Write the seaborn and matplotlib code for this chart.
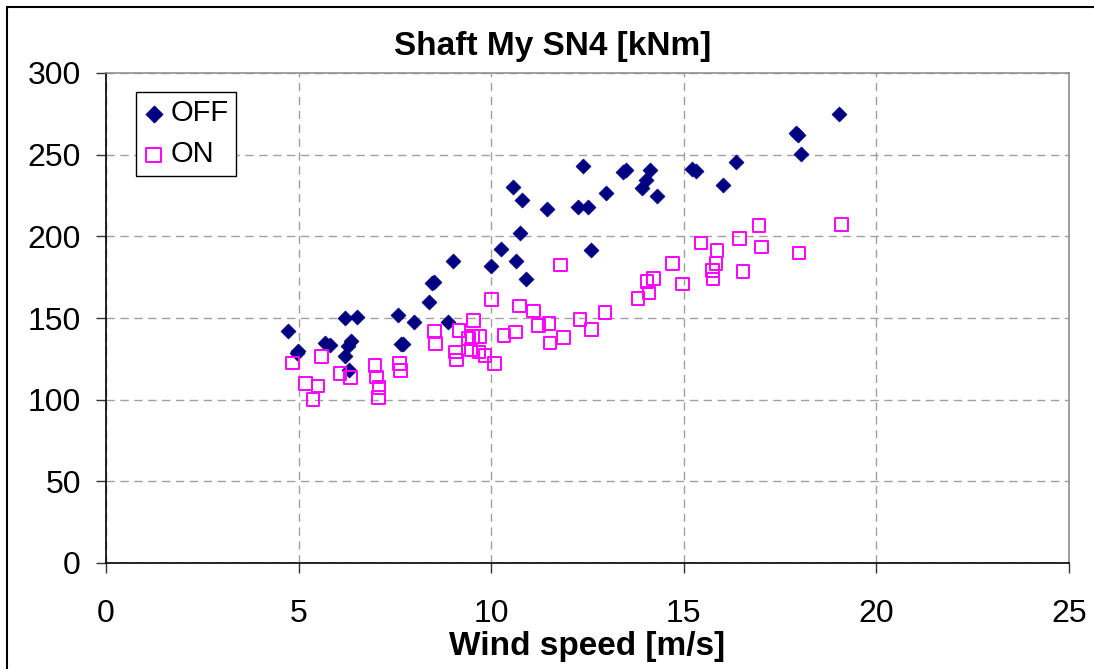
import seaborn as sns
import matplotlib.pyplot as plt
import matplotlib.patches as mpatches
import pandas as pd

# Data
off_speed = [4.73, 4.98, 4.97, 5.69, 5.82, 6.20, 6.52, 6.35, 6.29, 6.20, 6.32,
             7.58, 8.00, 7.65, 7.71, 8.39, 8.47, 8.52, 8.89, 9.00, 10.00, 10.26,
             10.57, 10.79, 10.76, 10.64, 10.90, 11.45, 12.25, 12.52, 12.38, 12.58,
             12.97, 13.42, 13.51, 14.11, 14.03, 13.92, 14.31, 15.22, 15.31, 16.03,
             16.35, 17.92, 17.97, 18.04, 19.03]
off_moment = [142.1, 129.9, 128.7, 134.8, 133.4, 149.8, 150.7, 135.8, 132.7, 127.0, 118.1,
              152.1, 147.8, 133.8, 134.2, 159.6, 171.5, 172.0, 147.6, 185.1, 181.9, 192.0,
              230.5, 222.4, 202.2, 185.1, 173.9, 216.9, 218.0, 218.0, 243.3, 191.4,
              226.4, 239.6, 240.7, 240.7, 234.6, 229.5, 224.8, 241.1, 240.3, 231.3,
              245.8, 263.5, 262.0, 250.6, 275.0]

on_speed = [4.84, 5.60, 5.18, 5.50, 5.37, 6.07, 6.34, 6.98, 7.02, 7.09, 7.07, 7.62,
            7.65, 8.53, 8.56, 9.16, 9.08, 9.10, 9.54, 9.41, 9.51, 9.70, 9.48, 9.68,
            9.84, 10.09, 10.33, 10.01, 10.63, 10.74, 11.10, 11.23, 11.50, 11.53, 11.87,
            11.80, 12.30, 12.60, 12.95, 13.81, 14.05, 14.22, 14.10, 14.71, 14.97, 15.45,
            15.86, 15.84, 15.74, 15.76, 16.44, 16.54, 16.95, 17.02, 17.99, 19.10]
on_moment = [122.4, 126.4, 109.8, 108.3, 100.2, 115.9, 113.6, 120.8, 113.8, 107.3, 101.4, 122.2,
             117.9, 141.7, 134.4, 142.5, 129.3, 124.2, 148.6, 137.4, 138.5, 138.5, 130.7, 129.3,
             127.0, 122.0, 139.3, 161.3, 141.5, 157.4, 154.4, 145.4, 146.8, 134.8, 138.2,
             182.5, 149.2, 142.8, 153.5, 161.9, 172.4, 174.3, 165.4, 183.3, 170.9, 196.0,
             191.4, 183.3, 179.2, 173.9, 198.5, 178.4, 206.7, 193.5, 189.8, 207.3]

x_ticks = [0, 5, 10, 15, 20, 25]
y_ticks = [0, 50, 100, 150, 200, 250, 300]

df_off = pd.DataFrame({"speed": off_speed, "moment": off_moment})
df_on = pd.DataFrame({"speed": on_speed, "moment": on_moment})

sns.set_style("white")
plt.rcParams['font.family'] = ["Liberation Sans", "DejaVu Sans"]
plt.rcParams['text.color'] = "black"
plt.rcParams['axes.labelcolor'] = "black"

fig = plt.figure(figsize=(10.94, 6.69), dpi=100)
ax = fig.add_axes([106 / 1094, 1 - 563 / 669, (1069 - 106) / 1094, (563 - 73) / 669])

sns.scatterplot(data=df_off, x="speed", y="moment", ax=ax, marker="D", s=58,
                color="#000080", edgecolor="#000080", linewidth=0.5, label="OFF", zorder=3)
sns.scatterplot(data=df_on, x="speed", y="moment", ax=ax, marker="s", s=82,
                facecolor="none", edgecolor="#FF00FF", linewidth=1.4, label="ON", zorder=3)

ax.set_xlim(0, 25)
ax.set_ylim(0, 300)
ax.set_xticks(x_ticks)
ax.set_yticks(y_ticks)
ax.grid(True, color="#a0a0a0", linestyle=(0, (6, 4)), linewidth=1.0)
ax.set_axisbelow(True)

for side in ["top", "right"]:
    ax.spines[side].set_color("#909090")
    ax.spines[side].set_linewidth(1.2)
for side in ["left", "bottom"]:
    ax.spines[side].set_color("#000000")
    ax.spines[side].set_linewidth(1.2)

ax.tick_params(axis="both", direction="out", length=7, width=1, colors="#333333",
               labelcolor="black", labelsize=23, bottom=True, left=True)
ax.tick_params(axis="x", pad=19)
ax.tick_params(axis="y", pad=11)

ax.set_xlabel("Wind speed [m/s]", fontsize=24, fontweight="bold", labelpad=1.5,
              color="black")
ax.set_ylabel("")

fig.text(553 / 1094, 1 - 47 / 669, "Shaft My SN4 [kNm]", fontsize=24,
         fontweight="bold", ha="center", va="center", color="black")

leg = ax.legend(loc="upper left", bbox_to_anchor=(30 / 963, 1 - 19 / 490),
                fontsize=21, frameon=True, fancybox=False, framealpha=1,
                edgecolor="black", handletextpad=0.25, borderpad=0.25,
                labelspacing=0.45, handlelength=0.7, borderaxespad=0,
                markerscale=1.15)
leg.get_frame().set_linewidth(1.0)
for t in leg.get_texts():
    t.set_color("black")

# outer chart-area border (left and top edges visible)
border = mpatches.Rectangle((7 / 1094, -0.1), 1.2, 1 - 7 / 669 + 0.1,
                            transform=fig.transFigure, fill=False,
                            edgecolor="black", linewidth=1.5, clip_on=False)
fig.add_artist(border)

fig.savefig("out.png", dpi=100)
